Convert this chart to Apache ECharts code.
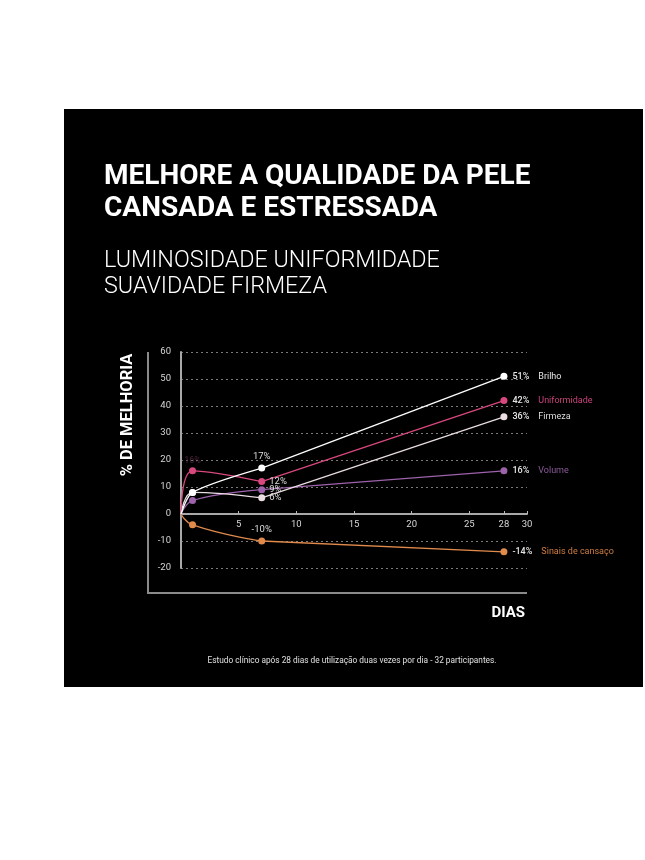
<!DOCTYPE html>
<html>
<head>
<meta charset="utf-8">
<script src="https://cdn.jsdelivr.net/npm/echarts@6/dist/echarts.min.js"></script>
<style>
html,body{margin:0;padding:0;background:#fff;}
#c{width:645px;height:860px;}
</style>
</head>
<body>
<div id="c"></div>
<script>
// ---- data ----
const days = [0, 1, 7, 28];
const seriesNames = ['Brilho', 'Uniformidade', 'Firmeza', 'Volume', 'Sinais de cansaço'];
const brilho = [0, 8, 17, 51];
const uniformidade = [0, 16, 12, 42];
const firmeza = [0, 8, 6, 36];
const volume = [0, 5, 9, 16];
const sinais = [0, -4, -10, -14];
const xTickValues = [5, 10, 15, 20, 25, 28, 30];
const yMin = -20, yMax = 60, yStep = 10;

const title1 = 'MELHORE A QUALIDADE DA PELE';
const title2 = 'CANSADA E ESTRESSADA';
const sub1 = 'LUMINOSIDADE UNIFORMIDADE';
const sub2 = 'SUAVIDADE FIRMEZA';
const yName = '% DE MELHORIA';
const xName = 'DIAS';
const footnote = 'Estudo clínico após 28 dias de utilização duas vezes por dia - 32 participantes.';

// ---- styles ----
const styles = [
  {color: '#ffffff', text: '#e6e6e6', mid: 'top', z: 5, smooth: 0.25},
  {color: '#d8487e', text: '#c8437a', mid: 'right', first: true, z: 4, smooth: 0.65},
  {color: '#eadde3', text: '#dddddd', mid: 'right', z: 3, smooth: 0.4},
  {color: '#9c62aa', text: '#8d5b9c', mid: 'right', z: 2, smooth: 0.4},
  {color: '#e08a4c', text: '#cf7d40', mid: 'top', z: 1, smooth: 0.5}
];
const values = [brilho, uniformidade, firmeza, volume, sinais];
const font = 'Roboto, "Open Sans", sans-serif';

function makeItem(vals, si, i) {
  const st = styles[si];
  const item = {value: [days[i], vals[i]]};
  if (i === 0) item.symbol = 'none';
  if (i === 1 && st.first) {
    item.label = {show: true, position: 'top', distance: 2, formatter: vals[i] + '%', color: '#4a2335', fontSize: 9, fontFamily: font};
  }
  if (i === 2) {
    item.label = {show: true, position: st.mid, distance: st.mid === 'top' ? 3 : 4, formatter: vals[i] + '%', color: '#dddddd', fontSize: 9.5, fontFamily: font};
  }
  if (i === 3) {
    item.label = {
      show: true, position: 'right', distance: 5,
      formatter: '{v|' + vals[i] + '%}{n|' + seriesNames[si] + '}',
      rich: {
        v: {color: '#e6e6e6', fontSize: 9, fontFamily: font, fontWeight: 500},
        n: {color: st.text, fontSize: 9, fontFamily: font, padding: [0, 0, 0, 9]}
      }
    };
  }
  return item;
}

const series = [];
values.forEach((vals, si) => {
  const st = styles[si];
  const common = {
    type: 'line', symbol: 'circle', symbolSize: 7,
    lineStyle: {color: st.color, width: 1.3},
    itemStyle: {color: st.color},
    emphasis: {disabled: true}, animation: false
  };
  // early phase (days 0..7): curved
  series.push(Object.assign({}, common, {
    name: seriesNames[si], smooth: st.smooth, z: st.z,
    data: [0, 1, 2].map(i => {
      const it = makeItem(vals, si, i);
      if (i === 2) { it.symbol = 'none'; delete it.label; }
      return it;
    })
  }));
  // late phase (days 7..28): straight
  series.push(Object.assign({}, common, {
    name: seriesNames[si] + ' ', smooth: false, z: st.z + 0.5,
    data: [2, 3].map(i => makeItem(vals, si, i))
  }));
});

const chart = echarts.init(document.getElementById('c'), null, {renderer: 'canvas'});
chart.setOption({
  backgroundColor: '#ffffff',
  animation: false,
  grid: {left: 181, right: 118, top: 352, bottom: 292, containLabel: false},
  xAxis: {
    type: 'value', min: 0, max: 30,
    axisLine: {onZero: true, lineStyle: {color: '#a8a8a8', width: 2}},
    axisTick: {show: true, inside: true, length: 3, customValues: xTickValues, lineStyle: {color: '#bbbbbb', width: 1}},
    axisLabel: {customValues: xTickValues, color: '#d6d6d6', fontSize: 9.5, fontFamily: font, margin: -48},
    splitLine: {show: false}
  },
  yAxis: {
    type: 'value', min: yMin, max: yMax, interval: yStep,
    axisLine: {show: true, onZero: false, lineStyle: {color: '#a8a8a8', width: 2}},
    axisTick: {show: false},
    axisLabel: {color: '#d6d6d6', fontSize: 9.5, fontFamily: font, margin: 10},
    splitLine: {show: true, lineStyle: {color: '#7a7a7a', type: [2, 3], width: 1}}
  },
  series: series,
  graphic: [
    {type: 'rect', z: -10, silent: true, shape: {x: 64, y: 109, width: 579, height: 578}, style: {fill: '#000000'}},
    {type: 'text', z: 10, x: 104, y: 177, style: {text: title1, fill: '#ffffff', font: 'bold 28px ' + font, textVerticalAlign: 'middle'}},
    {type: 'text', z: 10, x: 104, y: 209, style: {text: title2, fill: '#ffffff', font: 'bold 28px ' + font, textVerticalAlign: 'middle'}},
    {type: 'text', z: 10, x: 104, y: 261, style: {text: sub1, fill: '#ffffff', font: '300 23.3px ' + font, textVerticalAlign: 'middle'}},
    {type: 'text', z: 10, x: 104, y: 287, style: {text: sub2, fill: '#ffffff', font: '300 23.3px ' + font, textVerticalAlign: 'middle'}},
    {type: 'text', z: 10, x: 128, y: 415, rotation: Math.PI / 2, style: {text: yName, fill: '#ffffff', font: 'bold 16.5px ' + font, textAlign: 'center', textVerticalAlign: 'middle'}},
    {type: 'text', z: 10, x: 525, y: 613, style: {text: xName, fill: '#ffffff', font: 'bold 15px ' + font, textAlign: 'right', textVerticalAlign: 'middle'}},
    {type: 'text', z: 10, x: 352, y: 661, style: {text: footnote, fill: '#e0e0e0', font: '8.3px ' + font, textAlign: 'center', textVerticalAlign: 'middle'}},
    {type: 'line', z: 10, silent: true, shape: {x1: 148, y1: 352, x2: 148, y2: 593}, style: {stroke: '#8a8a8a', lineWidth: 2}},
    {type: 'line', z: 10, silent: true, shape: {x1: 147, y1: 593, x2: 527, y2: 593}, style: {stroke: '#8a8a8a', lineWidth: 2}}
  ]
});
</script>
</body>
</html>
